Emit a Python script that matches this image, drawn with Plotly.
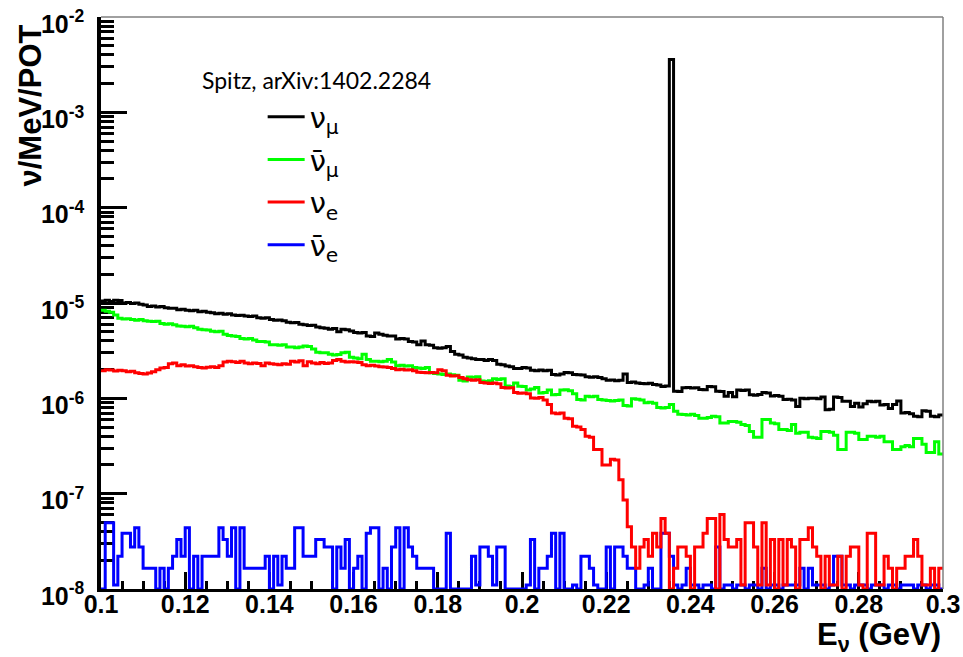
import plotly.graph_objects as go

# ---------------- binning (1 MeV bins from 0.1 to 0.3 GeV) ----------------
E_MIN, E_MAX, N_BINS = 0.1, 0.3, 200
bin_edges = [round(E_MIN + (E_MAX - E_MIN) * i / N_BINS, 4) for i in range(N_BINS + 1)]

# ---------------- series values (nu / MeV / POT), one value per bin ----------------
numu = [
    1.05e-5, 1.07e-5, 1.04e-5, 1.07e-5, 1.06e-5, 1.00e-5, 1.01e-5, 9.9e-6, 1.0e-5, 9.7e-6,
    9.5e-6, 9.2e-6, 9.3e-6, 9.1e-6, 9.2e-6, 8.9e-6, 8.8e-6, 8.8e-6, 8.5e-6, 8.6e-6,
    8.4e-6, 8.3e-6, 8.4e-6, 8.1e-6, 8.2e-6, 8.0e-6, 7.9e-6, 7.7e-6, 7.8e-6, 7.6e-6,
    7.7e-6, 7.5e-6, 7.4e-6, 7.45e-6, 7.3e-6, 7.2e-6, 7.3e-6, 7.0e-6, 6.9e-6, 7.0e-6,
    6.7e-6, 6.6e-6, 6.65e-6, 6.5e-6, 6.3e-6, 6.2e-6, 6.25e-6, 6.0e-6, 5.9e-6, 5.8e-6,
    5.85e-6, 5.6e-6, 5.5e-6, 5.45e-6, 5.3e-6, 5.4e-6, 5.0e-6, 5.3e-6, 5.25e-6, 5.1e-6,
    4.9e-6, 4.85e-6, 4.9e-6, 4.5e-6, 4.45e-6, 4.85e-6, 4.7e-6, 4.6e-6, 4.5e-6, 4.5e-6,
    4.2e-6, 4.25e-6, 4.2e-6, 3.95e-6, 3.9e-6, 3.65e-6, 4.0e-6, 3.65e-6, 3.6e-6, 3.4e-6,
    3.35e-6, 3.4e-6, 3.5e-6, 3.1e-6, 2.9e-6, 2.85e-6, 2.7e-6, 2.65e-6, 2.6e-6, 2.55e-6,
    2.55e-6, 2.5e-6, 2.55e-6, 2.5e-6, 2.28e-6, 2.25e-6, 2.18e-6, 2.15e-6, 2.05e-6, 2.05e-6,
    2.1e-6, 2.08e-6, 1.97e-6, 1.95e-6, 1.98e-6, 1.95e-6, 1.97e-6, 1.78e-6, 1.76e-6, 1.8e-6,
    1.87e-6, 1.85e-6, 1.78e-6, 1.77e-6, 1.76e-6, 1.68e-6, 1.66e-6, 1.68e-6, 1.65e-6, 1.6e-6,
    1.55e-6, 1.56e-6, 1.53e-6, 1.55e-6, 1.8e-6, 1.47e-6, 1.48e-6, 1.45e-6, 1.43e-6, 1.42e-6,
    1.44e-6, 1.4e-6, 1.38e-6, 1.33e-6, 1.35e-6, 3.58e-3, 1.19e-6, 1.18e-6, 1.29e-6, 1.3e-6,
    1.28e-6, 1.29e-6, 1.24e-6, 1.23e-6, 1.33e-6, 1.32e-6, 1.19e-6, 1.18e-6, 1.05e-6, 1.15e-6,
    1.04e-6, 1.22e-6, 1.21e-6, 1.22e-6, 1.09e-6, 1.08e-6, 1.1e-6, 1.15e-6, 1.14e-6, 1.06e-6,
    1.07e-6, 1.05e-6, 9.7e-7, 9.8e-7, 9.6e-7, 8.2e-7, 1.0e-6, 9.9e-7, 1.0e-6, 1.0e-6,
    9.9e-7, 1.03e-6, 7.6e-7, 7.7e-7, 1.03e-6, 1.02e-6, 9.3e-7, 9.3e-7, 8.2e-7, 8.9e-7,
    8.1e-7, 8.8e-7, 9.3e-7, 9.2e-7, 9.3e-7, 8.5e-7, 8.6e-7, 7.8e-7, 8.6e-7, 9.4e-7,
    7.0e-7, 7.1e-7, 6.9e-7, 6.5e-7, 6.4e-7, 7.4e-7, 7.3e-7, 6.5e-7, 6.4e-7, 6.7e-7,
]

numubar = [
    8.4e-6, 8.2e-6, 8.0e-6, 7.5e-6, 6.9e-6, 6.8e-6, 6.85e-6, 6.7e-6, 6.6e-6, 6.7e-6,
    6.5e-6, 6.45e-6, 6.4e-6, 6.45e-6, 6.1e-6, 6.0e-6, 6.05e-6, 5.9e-6, 5.75e-6, 5.7e-6,
    5.65e-6, 5.7e-6, 5.5e-6, 5.3e-6, 5.25e-6, 5.2e-6, 5.05e-6, 5.0e-6, 5.05e-6, 4.7e-6,
    4.55e-6, 4.5e-6, 4.45e-6, 4.25e-6, 4.2e-6, 4.25e-6, 4.1e-6, 3.95e-6, 3.95e-6, 3.9e-6,
    3.65e-6, 3.65e-6, 3.6e-6, 3.65e-6, 3.45e-6, 3.45e-6, 3.4e-6, 3.45e-6, 3.55e-6, 3.5e-6,
    3.3e-6, 3.05e-6, 3.0e-6, 3.0e-6, 2.9e-6, 2.85e-6, 2.88e-6, 3.0e-6, 3.05e-6, 2.7e-6,
    2.65e-6, 2.6e-6, 2.9e-6, 2.55e-6, 2.45e-6, 2.45e-6, 2.42e-6, 2.45e-6, 2.55e-6, 2.4e-6,
    2.2e-6, 2.22e-6, 2.18e-6, 2.2e-6, 2.1e-6, 2.08e-6, 2.05e-6, 2.1e-6, 1.85e-6, 1.82e-6,
    1.8e-6, 1.78e-6, 1.8e-6, 1.77e-6, 1.75e-6, 1.55e-6, 1.52e-6, 1.67e-6, 1.66e-6, 1.68e-6,
    1.52e-6, 1.5e-6, 1.53e-6, 1.6e-6, 1.58e-6, 1.6e-6, 1.35e-6, 1.33e-6, 1.45e-6, 1.34e-6,
    1.33e-6, 1.22e-6, 1.25e-6, 1.3e-6, 1.14e-6, 1.15e-6, 1.22e-6, 1.09e-6, 1.1e-6, 1.22e-6,
    1.23e-6, 1.2e-6, 1.12e-6, 9.7e-7, 9.6e-7, 1.05e-6, 1.04e-6, 1.05e-6, 9.7e-7, 9.6e-7,
    9.5e-7, 9.4e-7, 9.5e-7, 9.6e-7, 8.4e-7, 8.3e-7, 9.9e-7, 9.8e-7, 9.6e-7, 9.0e-7,
    9.1e-7, 8.9e-7, 8.0e-7, 7.9e-7, 8.0e-7, 8.6e-7, 7.3e-7, 6.8e-7, 6.75e-7, 6.7e-7,
    6.8e-7, 6.6e-7, 6.2e-7, 6.2e-7, 6.3e-7, 6.5e-7, 6.4e-7, 5.5e-7, 5.5e-7, 5.7e-7,
    5.7e-7, 5.6e-7, 5.3e-7, 5.2e-7, 4.5e-7, 3.9e-7, 3.9e-7, 6.0e-7, 6.0e-7, 5.5e-7,
    5.4e-7, 4.7e-7, 4.7e-7, 4.6e-7, 5.3e-7, 4.3e-7, 4.4e-7, 4.4e-7, 3.9e-7, 3.85e-7,
    3.8e-7, 4.5e-7, 4.5e-7, 4.4e-7, 4.1e-7, 2.9e-7, 2.9e-7, 4.4e-7, 4.4e-7, 4.3e-7,
    3.7e-7, 3.7e-7, 4.0e-7, 4.0e-7, 3.9e-7, 4.0e-7, 3.5e-7, 3.5e-7, 2.9e-7, 2.9e-7,
    3.1e-7, 3.2e-7, 3.1e-7, 3.8e-7, 3.8e-7, 3.3e-7, 2.7e-7, 2.7e-7, 3.5e-7, 2.6e-7,
]

nue = [
    1.95e-6, 2.0e-6, 1.98e-6, 1.93e-6, 1.97e-6, 1.95e-6, 1.9e-6, 1.92e-6, 1.85e-6, 1.82e-6,
    1.8e-6, 1.84e-6, 1.9e-6, 2.0e-6, 2.08e-6, 2.1e-6, 2.3e-6, 2.35e-6, 2.2e-6, 2.25e-6,
    2.18e-6, 2.2e-6, 2.15e-6, 2.1e-6, 2.08e-6, 2.12e-6, 2.15e-6, 2.1e-6, 2.2e-6, 2.4e-6,
    2.45e-6, 2.42e-6, 2.38e-6, 2.45e-6, 2.35e-6, 2.3e-6, 2.35e-6, 2.32e-6, 2.2e-6, 2.35e-6,
    2.3e-6, 2.28e-6, 2.25e-6, 2.3e-6, 2.28e-6, 2.45e-6, 2.4e-6, 2.48e-6, 2.2e-6, 2.42e-6,
    2.35e-6, 2.3e-6, 2.38e-6, 2.32e-6, 2.35e-6, 2.5e-6, 2.55e-6, 2.45e-6, 2.4e-6, 2.42e-6,
    2.4e-6, 2.38e-6, 2.25e-6, 2.2e-6, 2.22e-6, 2.18e-6, 2.15e-6, 2.13e-6, 2.1e-6, 2.05e-6,
    2.0e-6, 2.02e-6, 1.98e-6, 2.0e-6, 1.95e-6, 1.88e-6, 1.87e-6, 1.85e-6, 1.87e-6, 1.86e-6,
    2.0e-6, 1.95e-6, 1.75e-6, 1.72e-6, 1.73e-6, 1.65e-6, 1.6e-6, 1.57e-6, 1.55e-6, 1.57e-6,
    1.47e-6, 1.45e-6, 1.43e-6, 1.45e-6, 1.42e-6, 1.3e-6, 1.28e-6, 1.29e-6, 1.15e-6, 1.13e-6,
    1.14e-6, 1.12e-6, 1.01e-6, 1.0e-6, 1.02e-6, 9.6e-7, 8.6e-7, 7.0e-7, 6.9e-7, 7.0e-7,
    6.2e-7, 6.1e-7, 5.1e-7, 5.0e-7, 4.7e-7, 4.0e-7, 3.9e-7, 2.9e-7, 2.9e-7, 2.0e-7,
    2.0e-7, 2.3e-7, 2.25e-7, 1.4e-7, 8.6e-8, 4.5e-8, 2.75e-8, 1.65e-8, 2.75e-8, 3.3e-8,
    2.2e-8, 3.85e-8, 2.75e-8, 5.5e-8, 3.85e-8, 1.0e-8, 1.65e-8, 2.75e-8, 2.75e-8, 2.2e-8,
    1.0e-8, 2.75e-8, 2.75e-8, 3.85e-8, 5.5e-8, 5.5e-8, 1.0e-8, 6.05e-8, 3.3e-8, 2.75e-8,
    2.75e-8, 3.3e-8, 1.1e-8, 4.95e-8, 4.95e-8, 2.75e-8, 1.1e-8, 4.95e-8, 1.1e-8, 3.3e-8,
    1.0e-8, 3.3e-8, 1.1e-8, 3.3e-8, 2.75e-8, 1.0e-8, 3.3e-8, 3.3e-8, 4.4e-8, 2.75e-8,
    2.2e-8, 1.0e-8, 2.2e-8, 1.1e-8, 1.1e-8, 2.2e-8, 1.0e-8, 2.2e-8, 2.75e-8, 2.75e-8,
    1.1e-8, 1.0e-8, 3.85e-8, 3.85e-8, 1.1e-8, 1.1e-8, 2.2e-8, 1.65e-8, 1.0e-8, 1.65e-8,
    1.65e-8, 2.2e-8, 2.2e-8, 3.3e-8, 2.2e-8, 1.1e-8, 1.1e-8, 1.65e-8, 1.0e-8, 1.65e-8,
]

nuebar = [
    1.0e-8, 4.95e-8, 4.95e-8, 1.1e-8, 2.2e-8, 3.85e-8, 3.85e-8, 2.75e-8, 4.4e-8, 2.75e-8,
    1.65e-8, 1.65e-8, 1.65e-8, 1.0e-8, 1.65e-8, 1.0e-8, 1.65e-8, 2.2e-8, 3.3e-8, 2.2e-8,
    4.4e-8, 1.0e-8, 2.2e-8, 1.0e-8, 2.2e-8, 2.2e-8, 2.2e-8, 2.2e-8, 4.4e-8, 3.3e-8,
    2.2e-8, 4.4e-8, 1.0e-8, 4.4e-8, 1.65e-8, 1.65e-8, 1.65e-8, 1.65e-8, 1.65e-8, 2.2e-8,
    1.0e-8, 2.2e-8, 1.1e-8, 2.2e-8, 1.65e-8, 1.65e-8, 4.4e-8, 4.4e-8, 2.2e-8, 2.2e-8,
    2.2e-8, 3.3e-8, 3.3e-8, 2.75e-8, 2.75e-8, 1.0e-8, 2.75e-8, 1.65e-8, 3.3e-8, 1.0e-8,
    1.65e-8, 2.2e-8, 1.0e-8, 3.85e-8, 4.4e-8, 4.4e-8, 1.0e-8, 1.65e-8, 1.0e-8, 2.75e-8,
    4.4e-8, 1.0e-8, 4.4e-8, 2.75e-8, 2.2e-8, 1.65e-8, 1.65e-8, 1.65e-8, 1.65e-8, 1.0e-8,
    1.0e-8, 1.0e-8, 3.85e-8, 1.0e-8, 1.0e-8, 1.0e-8, 1.0e-8, 1.0e-8, 2.2e-8, 1.1e-8,
    2.75e-8, 2.75e-8, 2.2e-8, 1.1e-8, 2.75e-8, 2.75e-8, 1.0e-8, 1.0e-8, 1.0e-8, 1.0e-8,
    1.0e-8, 1.1e-8, 3.3e-8, 1.0e-8, 1.65e-8, 1.65e-8, 2.2e-8, 3.85e-8, 1.0e-8, 3.85e-8,
    1.0e-8, 1.0e-8, 1.1e-8, 1.0e-8, 2.2e-8, 2.2e-8, 1.65e-8, 1.1e-8, 1.0e-8, 1.0e-8,
    2.75e-8, 1.0e-8, 2.75e-8, 2.75e-8, 2.2e-8, 1.65e-8, 1.65e-8, 1.0e-8, 1.0e-8, 1.1e-8,
    1.65e-8, 1.0e-8, 1.0e-8, 3.85e-8, 3.85e-8, 2.2e-8, 1.1e-8, 1.0e-8, 1.1e-8, 1.65e-8,
    1.1e-8, 1.1e-8, 1.0e-8, 1.1e-8, 1.1e-8, 1.0e-8, 2.75e-8, 1.0e-8, 1.1e-8, 1.1e-8,
    1.0e-8, 1.1e-8, 1.1e-8, 1.0e-8, 1.1e-8, 1.1e-8, 1.0e-8, 1.65e-8, 1.0e-8, 1.1e-8,
    1.1e-8, 1.0e-8, 1.1e-8, 1.1e-8, 1.1e-8, 1.1e-8, 1.65e-8, 1.0e-8, 1.65e-8, 1.1e-8,
    1.1e-8, 1.1e-8, 1.0e-8, 1.1e-8, 2.2e-8, 2.2e-8, 1.1e-8, 1.1e-8, 1.0e-8, 1.1e-8,
    1.1e-8, 1.1e-8, 1.0e-8, 1.1e-8, 1.1e-8, 1.1e-8, 1.0e-8, 1.1e-8, 1.1e-8, 1.0e-8,
    1.1e-8, 1.1e-8, 1.1e-8, 1.0e-8, 1.1e-8, 1.1e-8, 1.0e-8, 1.1e-8, 1.1e-8, 1.0e-8,
]

# ---------------- tick labels ----------------
x_tick_vals = [0.1, 0.12, 0.14, 0.16, 0.18, 0.2, 0.22, 0.24, 0.26, 0.28, 0.3]
x_tick_text = ["0.1", "0.12", "0.14", "0.16", "0.18", "0.2", "0.22", "0.24", "0.26", "0.28", "0.3"]
y_tick_vals = [1e-8, 1e-7, 1e-6, 1e-5, 1e-4, 1e-3, 1e-2]
y_tick_text = ["10<sup>-8</sup>", "10<sup>-7</sup>", "10<sup>-6</sup>", "10<sup>-5</sup>",
               "10<sup>-4</sup>", "10<sup>-3</sup>", "10<sup>-2</sup>"]

# series: (values, legend label, colour, legend rank); drawing order black, green, blue, red
series = [
    (numu, "ν<sub>μ</sub>", "#000000", 1),
    (numubar, "ν\u0304<sub>μ</sub>", "#00ff00", 2),
    (nuebar, "ν\u0304<sub>e</sub>", "#0000ff", 4),
    (nue, "ν<sub>e</sub>", "#ff0000", 3),
]

fig = go.Figure()
for vals, label, colour, rank in series:
    fig.add_trace(go.Scatter(
        x=bin_edges,
        y=vals + [vals[-1]],
        mode="lines",
        line=dict(color=colour, width=3, shape="hv"),
        name=label,
        legendrank=rank,
        legendgroup=label,
        hoverinfo="skip",
    ))

x_minor = [round(0.1 + 0.005 * i, 3) for i in range(41)]
y_minor = [k * 10.0 ** e for e in range(-8, -2) for k in range(2, 10)]

tick_font = dict(family="Liberation Sans", size=25, color="black", weight="bold")

fig.update_layout(
    width=963, height=657, autosize=False,
    margin=dict(l=101, r=20, t=17, b=68, autoexpand=False),
    paper_bgcolor="white", plot_bgcolor="white",
    showlegend=True,
    legend=dict(
        x=0.192, y=0.87, xanchor="left", yanchor="top",
        font=dict(family="DejaVu Sans", size=29, color="black"),
        bgcolor="rgba(0,0,0,0)", tracegroupgap=2, itemwidth=37,
        traceorder="grouped",
    ),
    xaxis=dict(
        range=[0.1, 0.3], tickmode="array", tickvals=x_tick_vals, ticktext=x_tick_text,
        ticks="inside", ticklen=17, tickwidth=2.5, tickcolor="black",
        minor=dict(tickmode="array", tickvals=x_minor, ticks="inside", ticklen=8,
                   tickwidth=2.5, tickcolor="black", showgrid=False),
        showline=True, linecolor="black", linewidth=3,
        showgrid=False, zeroline=False, tickfont=tick_font, automargin=False,
        layer="below traces", ticklabelstandoff=-9, ticklabeloverflow="allow",
    ),
    yaxis=dict(
        type="log", range=[-8, -2], tickmode="array", tickvals=y_tick_vals,
        ticktext=y_tick_text,
        ticks="inside", ticklen=26, tickwidth=3, tickcolor="black",
        minor=dict(tickmode="array", tickvals=y_minor, ticks="inside", ticklen=13,
                   tickwidth=3, tickcolor="black", showgrid=False),
        showline=True, linecolor="black", linewidth=3.5,
        showgrid=False, zeroline=False, tickfont=tick_font, automargin=False,
        layer="below traces", ticklabelstandoff=8, ticklabeloverflow="allow",
        ticklabelshift=7,
    ),
    shapes=[
        dict(type="line", xref="paper", yref="paper", x0=0, x1=1, y0=1, y1=1,
             line=dict(color="#808080", width=1.5)),
        dict(type="line", xref="paper", yref="paper", x0=1, x1=1, y0=0, y1=1,
             line=dict(color="#808080", width=1.5)),
    ],
    annotations=[
        dict(text="Spitz, arXiv:1402.2284", xref="paper", yref="paper",
             x=(316 - 101) / 842, y=1 - (80 - 17) / 572, xanchor="center", yanchor="middle",
             showarrow=False, font=dict(family="Lato", size=23, color="black")),
        dict(text="<b>ν/MeV/POT</b>", xref="paper", yref="paper", textangle=-90,
             x=(30 - 101) / 842, y=1 - (105.5 - 17) / 572, xanchor="center", yanchor="middle",
             showarrow=False, font=dict(family="Liberation Sans", size=31, color="black")),
        dict(text="<b>E<sub>ν</sub> (GeV)</b>", xref="paper", yref="paper",
             x=1.0, y=-0.046, xanchor="right", yanchor="top",
             showarrow=False, font=dict(family="Liberation Sans", size=31, color="black")),
    ],
)

fig.write_html("out.html", post_script="document.body.style.margin='0';",
               config={"displayModeBar": False})
